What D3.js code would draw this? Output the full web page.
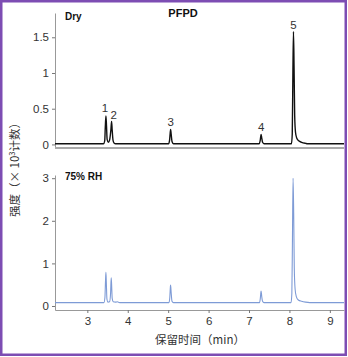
<!DOCTYPE html>
<html>
<head>
<meta charset="utf-8">
<script src="https://cdn.jsdelivr.net/npm/d3@7"></script>
<style>
  html, body { margin: 0; padding: 0; background: #fff; }
  svg { display: block; }
  text { font-family: "Liberation Sans", Arial, "Noto Sans CJK SC", sans-serif; }
</style>
</head>
<body>
<script>
// Retention-time ticks (min)
const xTicks = [3, 4, 5, 6, 7, 8, 9];
const dryTicks = [0, 0.5, 1, 1.5];
const humidTicks = [0, 1, 2, 3];

// Peak labels: retention time and number
const peakTimes = [3.46, 3.60, 5.06, 7.30, 8.10];
const peakNames = ["1", "2", "3", "4", "5"];

// Dry chromatogram: [time (min), intensity (×10³ counts)]
const dryTrace = [
  [2.20, 0.01], [3.40, 0.01], [3.43, 0.05], [3.445, 0.25], [3.46, 0.40], [3.475, 0.25], [3.49, 0.07],
  [3.52, 0.03], [3.55, 0.06], [3.585, 0.22], [3.60, 0.32], [3.615, 0.20], [3.635, 0.06], [3.66, 0.02],
  [3.70, 0.01], [5.01, 0.01], [5.035, 0.06], [5.05, 0.16], [5.06, 0.21], [5.075, 0.14], [5.095, 0.04],
  [5.13, 0.01], [7.25, 0.01], [7.275, 0.05], [7.29, 0.11], [7.30, 0.14], [7.315, 0.09], [7.335, 0.03],
  [7.37, 0.01], [8.05, 0.01], [8.07, 0.15], [8.085, 0.95], [8.10, 1.58], [8.115, 1.05], [8.13, 0.40],
  [8.15, 0.17], [8.18, 0.09], [8.23, 0.05], [8.30, 0.03], [8.40, 0.015], [8.45, 0.01], [9.35, 0.01]
];

// 75% RH chromatogram: [time (min), intensity (×10³ counts)]
const humidTrace = [
  [2.20, 0.08], [3.41, 0.08], [3.435, 0.20], [3.45, 0.60], [3.46, 0.79], [3.47, 0.55], [3.485, 0.16],
  [3.51, 0.09], [3.55, 0.10], [3.575, 0.30], [3.59, 0.66], [3.60, 0.52], [3.615, 0.18], [3.64, 0.10],
  [3.70, 0.09], [3.74, 0.10], [3.80, 0.08], [5.02, 0.08], [5.04, 0.20], [5.055, 0.45], [5.06, 0.49],
  [5.075, 0.30], [5.095, 0.11], [5.13, 0.08], [7.26, 0.08], [7.28, 0.18], [7.295, 0.33], [7.30, 0.35],
  [7.315, 0.22], [7.335, 0.11], [7.37, 0.08], [8.04, 0.08], [8.06, 0.30], [8.075, 1.60], [8.09, 3.00],
  [8.105, 2.20], [8.12, 0.90], [8.14, 0.40], [8.17, 0.22], [8.22, 0.14], [8.30, 0.11], [8.40, 0.09],
  [8.50, 0.08], [9.35, 0.08]
];

const W = 348, H = 357;
const svg = d3.select("body").append("svg").attr("width", W).attr("height", H);

// Frame
svg.append("rect").attr("x", 1.25).attr("y", 1.25).attr("width", 344.5).attr("height", 353.5)
  .attr("fill", "#fff").attr("stroke", "#7d4db3").attr("stroke-width", 2.5);

const x = d3.scaleLinear().domain([2.2, 9.35]).range([55, 344]);
const yDry = d3.scaleLinear().domain([-0.05, 1.84]).range([148, 13]);
const yHum = d3.scaleLinear().domain([-0.094, 3.075]).range([310, 175]);
const fmt = d3.format("~g");

function styleAxis(g) {
  g.selectAll(".domain").attr("stroke", "#999").attr("stroke-width", 1);
  g.selectAll(".tick line").attr("stroke", "#777");
  g.selectAll(".tick text").attr("fill", "#333").style("font-size", "11.5px");
}

// Dry panel axes
svg.append("g").attr("transform", "translate(55,0)")
  .call(d3.axisLeft(yDry).tickValues(dryTicks).tickFormat(fmt).tickSize(3).tickPadding(3).tickSizeOuter(0))
  .call(styleAxis);
svg.append("line").attr("x1", x.range()[0]).attr("x2", x.range()[1])
  .attr("y1", 148).attr("y2", 148).attr("stroke", "#aaa").attr("stroke-width", 2);

// 75% RH panel axes
svg.append("g").attr("transform", "translate(55,0)")
  .call(d3.axisLeft(yHum).tickValues(humidTicks).tickFormat(fmt).tickSize(3).tickPadding(3).tickSizeOuter(0))
  .call(styleAxis);
svg.append("g").attr("transform", "translate(0,310)")
  .call(d3.axisBottom(x).tickValues(xTicks).tickFormat(fmt).tickSize(3).tickPadding(4).tickSizeOuter(0))
  .call(styleAxis);

// Traces
const lineDry = d3.line().x(d => x(d[0])).y(d => yDry(d[1])).curve(d3.curveMonotoneX);
const lineHum = d3.line().x(d => x(d[0])).y(d => yHum(d[1])).curve(d3.curveMonotoneX);

svg.append("path").datum(dryTrace).attr("d", lineDry)
  .attr("fill", "none").attr("stroke", "#111").attr("stroke-width", 1.4).attr("stroke-linejoin", "round");
svg.append("path").datum(humidTrace).attr("d", lineHum)
  .attr("fill", "none").attr("stroke", "#7e9bd6").attr("stroke-width", 1.1).attr("stroke-linejoin", "round");

// Peak numbers above the dry peaks
const dryApex = t => d3.max(dryTrace.filter(d => Math.abs(d[0] - t) < 0.03), d => d[1]);
const labelShift = [-1, 2, 0, 0, 0];
svg.append("g").selectAll("text").data(peakTimes).join("text")
  .attr("x", (t, i) => x(t) + labelShift[i])
  .attr("y", (t, i) => yDry(dryApex(t)) - (i === 0 ? 4 : 3))
  .attr("text-anchor", "middle")
  .attr("fill", "#333").style("font-size", "11.5px")
  .text((t, i) => peakNames[i]);

// Panel titles
svg.append("text").attr("x", 183).attr("y", 17).attr("text-anchor", "middle")
  .style("font-size", "11px").style("font-weight", "bold").attr("fill", "#111").text("PFPD");
svg.append("text").attr("x", 65).attr("y", 20)
  .style("font-size", "10px").style("font-weight", "bold").attr("fill", "#111").text("Dry");
svg.append("text").attr("x", 65).attr("y", 180)
  .style("font-size", "10px").style("font-weight", "bold").attr("fill", "#111").text("75% RH");

// Axis titles
svg.append("text").attr("x", 200).attr("y", 344).attr("text-anchor", "middle")
  .style("font-size", "11.5px").attr("fill", "#333")
  .style("font-family", "'Noto Sans CJK SC', sans-serif")
  .text("保留时间（min）");

const yl = svg.append("text").attr("transform", "translate(19,167) rotate(-90)")
  .attr("text-anchor", "middle").style("font-size", "11.5px").attr("fill", "#333")
  .style("font-family", "'Noto Sans CJK SC', sans-serif");
yl.append("tspan").text("强度（× 10");
yl.append("tspan").attr("dy", -4).style("font-size", "7.5px").text("3");
yl.append("tspan").attr("dy", 4).text("计数）");
</script>
</body>
</html>
